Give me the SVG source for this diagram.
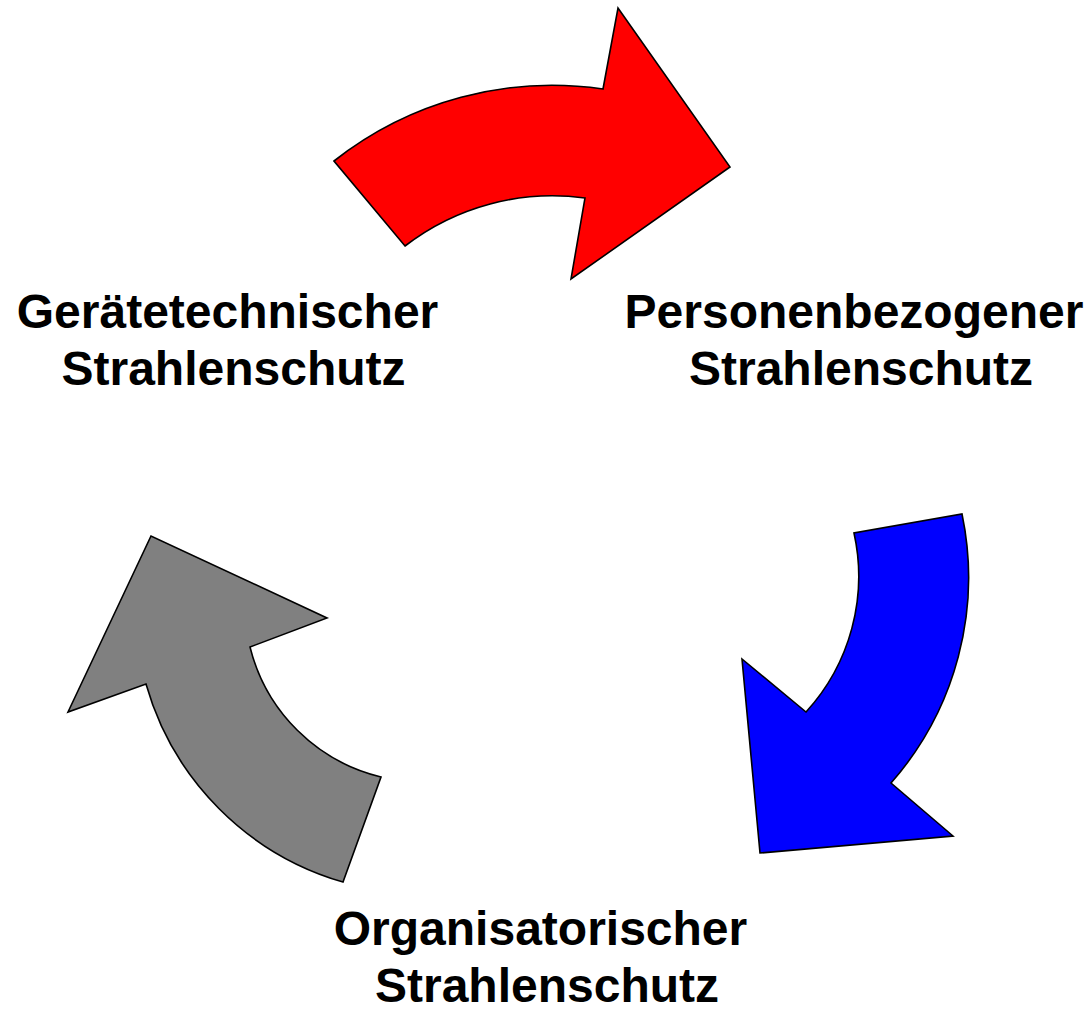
<svg xmlns="http://www.w3.org/2000/svg" width="1090" height="1009" viewBox="0 0 1090 1009">
<style>
.arrow{stroke:#000;stroke-width:1.6;stroke-linejoin:miter}
.lbl{font-family:"Liberation Sans",Arial,sans-serif;font-weight:bold;font-size:48px;fill:#000;text-anchor:middle}
</style>
<rect width="1090" height="1009" fill="#fff"/>
<g id="connectors">
<path id="arrow-red" class="arrow" fill="#ff0000" d="M334,161 A352,352 0 0,1 603,89 L618,8 L730,167 L571,279 L585,198 A241,241 0 0,0 405,246 Z"/>
<path id="arrow-blue" class="arrow" fill="#0000ff" d="M962,514 A311,311 0 0,1 891,783 L953,836 L760,853 L742,659 L806,712 A201,201 0 0,0 854,533 Z"/>
<path id="arrow-gray" class="arrow" fill="#808080" d="M343,882 A288,288 0 0,1 146,684 L68,712 L151,536 L327,618 L250,647 A178,178 0 0,0 381,777 Z"/>
</g>
<g id="node-geraetetechnisch">
<text class="lbl" x="227.5" y="328">Gerätetechnischer</text>
<text class="lbl" x="233.5" y="385">Strahlenschutz</text>
</g>
<g id="node-personenbezogen">
<text class="lbl" x="854" y="328">Personenbezogener</text>
<text class="lbl" x="861" y="385">Strahlenschutz</text>
</g>
<g id="node-organisatorisch">
<text class="lbl" x="540.5" y="945">Organisatorischer</text>
<text class="lbl" x="547" y="1002">Strahlenschutz</text>
</g>
</svg>
